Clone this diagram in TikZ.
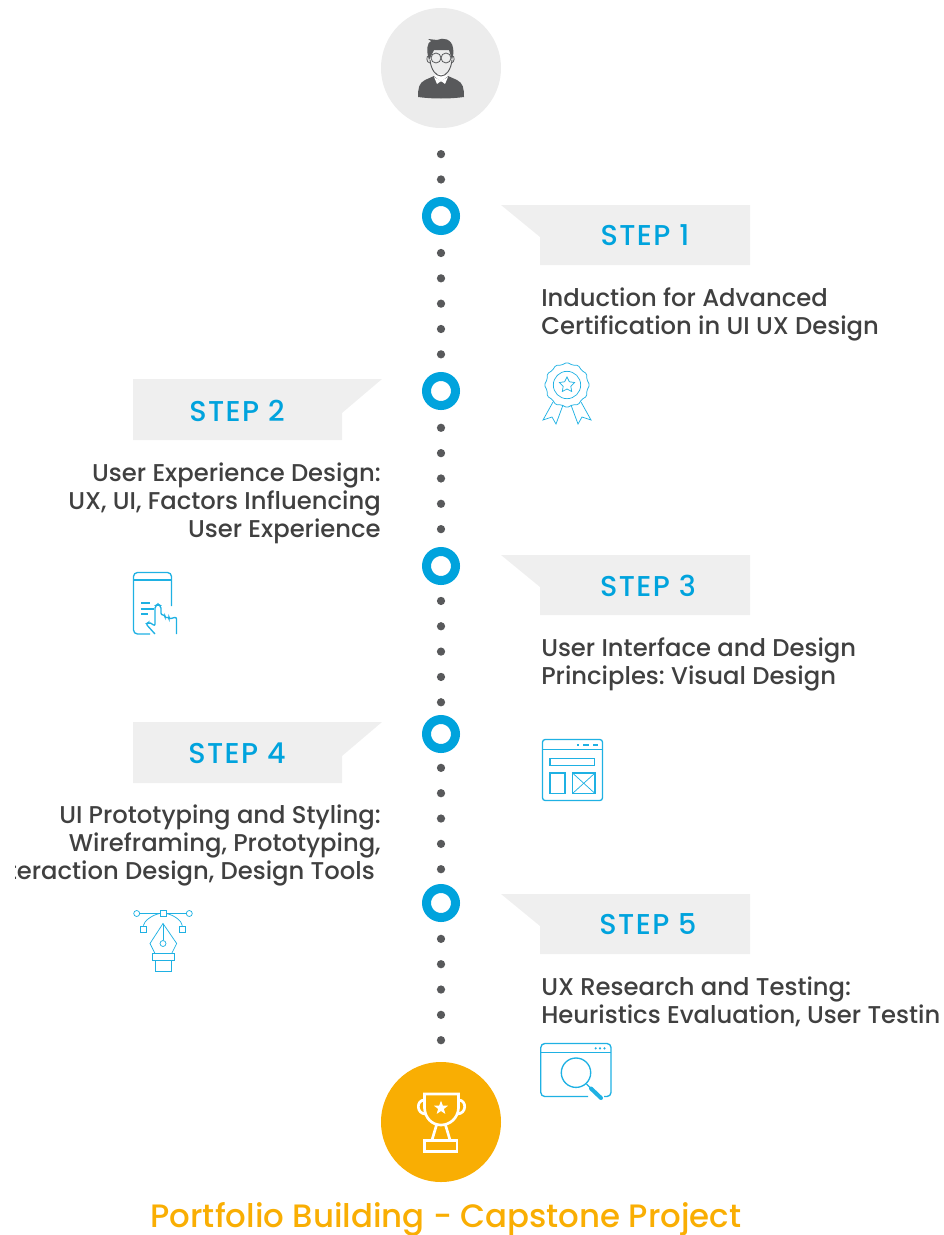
\documentclass[tikz,border=0pt]{standalone}
\usepackage{fontspec}
\setmainfont{Poppins Medium}
\usetikzlibrary{shapes.geometric}
\definecolor{stepblue}{HTML}{00A3DD}
\definecolor{iconblue}{HTML}{1FB1E3}
\definecolor{bannergrey}{HTML}{EFEFEF}
\definecolor{headgrey}{HTML}{ECECEC}
\definecolor{bodygrey}{HTML}{404040}
\definecolor{persongrey}{HTML}{58595B}
\definecolor{goldorange}{HTML}{F9AE03}
\frenchspacing

\begin{document}
\begin{tikzpicture}[x=0.75pt, y=-0.75pt, node distance={19pt},
	spot/.style = {circle, fill=persongrey, inner sep=0pt, minimum size=6.2pt},
	ring/.style = {circle, draw=stepblue, line width=6.75pt, fill=white, inner sep=0pt, minimum size=21.75pt},
	banner/.style = {fill=bannergrey},
	steplabel/.style = {text=stepblue, font=\fontsize{21.5}{24}\selectfont\addfontfeature{LetterSpace=5}},
	bodyleft/.style = {text=bodygrey, font=\fontsize{18.2}{21}\selectfont, align=left, anchor=north west, inner sep=0pt},
	bodyright/.style = {text=bodygrey, font=\fontsize{18.2}{21}\selectfont, align=right, anchor=north east, inner sep=0pt},
	icon/.style = {draw=iconblue, line width=1pt},
	iconthin/.style = {draw=iconblue, line width=0.55pt},
	cup/.style = {draw=white, line width=2pt}]
	\useasboundingbox (0,0) rectangle (944,1235);

	% head and foot
	\node[circle, fill=headgrey, inner sep=0pt, minimum size=90pt] (head) at (441,68) {};
	\node[circle, fill=goldorange, inner sep=0pt, minimum size=90pt] (foot) at (441,1122) {};

	% spine
	\node[ring] (r1) at (441,216) {};
	\node[ring] (r2) at (441,391) {};
	\node[ring] (r3) at (441,566) {};
	\node[ring] (r4) at (441,734) {};
	\node[ring] (r5) at (441,903) {};
	\node[spot] (d01) [above of=r1, node distance=27.4pt] {};
	\node[spot] (d02) [above of=d01] {};
	\node[spot] (d11) [below of=r1, node distance=27.75pt] {};
	\node[spot] (d12) [below of=d11] {};
	\node[spot] (d13) [below of=d12] {};
	\node[spot] (d14) [below of=d13] {};
	\node[spot] (d15) [below of=d14] {};
	\node[spot] (d21) [below of=r2, node distance=27.6pt] {};
	\node[spot] (d22) [below of=d21] {};
	\node[spot] (d23) [below of=d22] {};
	\node[spot] (d24) [below of=d23] {};
	\node[spot] (d25) [below of=d24] {};
	\node[spot] (d31) [below of=r3, node distance=26.2pt] {};
	\node[spot] (d32) [below of=d31] {};
	\node[spot] (d33) [below of=d32] {};
	\node[spot] (d34) [below of=d33] {};
	\node[spot] (d35) [below of=d34] {};
	\node[spot] (d41) [below of=r4, node distance=25.4pt] {};
	\node[spot] (d42) [below of=d41] {};
	\node[spot] (d43) [below of=d42] {};
	\node[spot] (d44) [below of=d43] {};
	\node[spot] (d45) [below of=d44] {};
	\node[spot] (d51) [below of=r5, node distance=26.9pt] {};
	\node[spot] (d52) [below of=d51] {};
	\node[spot] (d53) [below of=d52] {};
	\node[spot] (d54) [below of=d53] {};
	\node[spot] (d55) [below of=d54] {};

	% banners
	\fill[banner] (501,205) -- (750,205) -- (750,265) -- (540,265) -- (540,237) -- cycle;
	\fill[banner] (382,379) -- (133,379) -- (133,440) -- (342,440) -- (342,413) -- cycle;
	\fill[banner] (501,555) -- (750,555) -- (750,615) -- (540,615) -- (540,587) -- cycle;
	\fill[banner] (382,722) -- (133,722) -- (133,783) -- (342,783) -- (342,756) -- cycle;
	\fill[banner] (501,894) -- (750,894) -- (750,954) -- (540,954) -- (540,926) -- cycle;
	\node[steplabel] (s1) at (645,235.5) {STEP 1};
	\node[steplabel] (s2) at (237,410.5) {STEP 2};
	\node[steplabel] (s3) at (648,585.5) {STEP 3};
	\node[steplabel] (s4) at (237,753.5) {STEP 4};
	\node[steplabel] (s5) at (648,924.5) {STEP 5};

	% texts
	\node[bodyleft] (t1) at (541,287.5) {Induction for Advanced\\Certification in UI UX Design};
	\node[bodyright] (t2) at (381,462.5) {User Experience Design:\\UX, UI, Factors Influencing\\User Experience};
	\node[bodyleft] (t3) at (541,637.5) {User Interface and Design\\Principles: Visual Design};
	\node[bodyright] (t4) at (381,804.5) {UI Prototyping and Styling:\\Wireframing, Prototyping,};
	\begin{scope}
		\clip (15,850) rectangle (400,895);
		\node[bodyright] (t4b) at (375,860.5) {Interaction Design, Design Tools};
	\end{scope}
	\begin{scope}
		\clip (500,970) rectangle (938,1035);
		\node[bodyleft] (t5) at (541,976.5) {UX Research and Testing:\\Heuristics Evaluation, User Testing};
	\end{scope}
	\node[text=goldorange, font=\fontsize{24.3}{28}\selectfont, inner sep=0pt] (end) at (446,1219.5) {Portfolio Building - Capstone Project};

	% person
	\fill[persongrey] (418,97) .. controls (418,88) and (419,83) .. (425,80) -- (434,76) -- (441,82) -- (448,76) -- (457,80) .. controls (463,83) and (464,88) .. (464,97) .. controls (450,99) and (432,99) .. (418,97) -- cycle;
	\fill[white] (434,76) -- (441,81) -- (448,76) -- (445,74) -- (437,74) -- cycle;
	\fill[white] (441,81) -- (437,84) -- (434,77) -- cycle;
	\fill[white] (441,81) -- (445,84) -- (448,77) -- cycle;
	\fill[persongrey] (429,60) .. controls (426,50) and (427,43) .. (431,41) -- (428,39) -- (437,40) .. controls (443,37) and (452,39) .. (453,48) .. controls (454,52) and (453,56) .. (452,60) -- (449,50) -- (434,50) -- cycle;
	\draw[persongrey, line width=0.7pt] (430,60) .. controls (431,70) and (436,76) .. (441,76) .. controls (446,76) and (451,70) .. (452,60);
	\draw[persongrey, line width=0.6pt] (429,56) .. controls (426,55) and (426,63) .. (430,63);
	\draw[persongrey, line width=0.6pt] (452,56) .. controls (455,55) and (455,63) .. (451,63);
	\draw[persongrey, line width=0.6pt] (436,58) circle (5);
	\draw[persongrey, line width=0.6pt] (446,58) circle (5);

	% rosette
	\node[iconthin, star, star points=12, star point ratio=1.1, minimum size=34pt, inner sep=0pt, rounded corners=1pt] (rosette) at (567,385) {};
	\node[iconthin, circle, minimum size=20.5pt, inner sep=0pt] (seal) at (567,385) {};
	\node[iconthin, star, star points=5, star point ratio=2, minimum size=12pt, inner sep=0pt] (sealstar) at (567,385) {};
	\draw[iconthin] (553,402) -- (543,420) -- (552,417) -- (556,424) -- (563,405);
	\draw[iconthin] (581,402) -- (591,420) -- (582,417) -- (578,424) -- (571,405);

	% phone
	\draw[icon, rounded corners=3pt] (150,634) -- (133.5,634) -- (133.5,572.5) -- (171.5,572.5) -- (171.5,606);
	\draw[icon] (133.5,580) -- (171.5,580);
	\draw[icon] (141,603) -- (150,603);
	\draw[icon] (141,609) -- (154,609);
	\draw[icon] (141,614) -- (148,614);
	\draw[icon, rounded corners=1.5pt] (155,634) -- (146,624) -- (149,622) -- (155,626) -- (155,606) -- (158,604) -- (161,606) -- (161,615) -- (165,615) -- (165,618) -- (169,617) -- (169,619) -- (176.5,617) -- (176.5,634);

	% window
	\draw[icon, rounded corners=2pt] (542.5,739.5) rectangle (602.5,800.5);
	\draw[icon] (542.5,749.5) -- (602.5,749.5);
	\draw[icon] (577,745) -- (579,745);
	\draw[icon] (583,745) -- (589,745);
	\draw[icon] (593,745) -- (598,745);
	\draw[icon] (550,758.5) rectangle (594.5,765.5);
	\draw[icon] (550,773) rectangle (565,793.5);
	\draw[icon] (572.5,773) rectangle (595,793.5);
	\draw[iconthin] (572.5,773) -- (595,793.5);
	\draw[iconthin] (572.5,793.5) -- (595,773);

	% pen
	\draw[iconthin] (139.5,913.5) -- (160,913.5);
	\draw[iconthin] (166,913.5) -- (186.5,913.5);
	\node[iconthin, circle, minimum size=4.5pt, inner sep=0pt] (p1) at (136.7,913.5) {};
	\node[iconthin, circle, minimum size=4.5pt, inner sep=0pt] (p2) at (189.3,913.5) {};
	\node[iconthin, minimum size=4.5pt, inner sep=0pt] (p3) at (163,913.5) {};
	\node[iconthin, minimum size=4.5pt, inner sep=0pt] (p4) at (143.3,929) {};
	\node[iconthin, minimum size=4.5pt, inner sep=0pt] (p5) at (182.3,929) {};
	\draw[iconthin] (p4.north) .. controls (144,921) and (152,915) .. (p3.west);
	\draw[iconthin] (p5.north) .. controls (182,921) and (174,915) .. (p3.east);
	\draw[iconthin] (163,923.5) -- (150,943.5) -- (155,953.5) -- (171.7,953.5) -- (176.7,943.5) -- cycle;
	\node[iconthin, circle, minimum size=4.5pt, inner sep=0pt] (p6) at (163,943.5) {};
	\draw[iconthin] (163,923.5) -- (p6.north);
	\draw[iconthin] (152.5,953.5) rectangle (174.5,960.7);
	\draw[iconthin] (155.5,960.7) rectangle (171.7,971.7);

	% search window
	\draw[icon, rounded corners=3pt] (588,1096.5) -- (540.8,1096.5) -- (540.8,1043.5) -- (611,1043.5) -- (611,1096.5) -- (604,1096.5);
	\draw[icon] (540.8,1052.5) -- (611,1052.5);
	\fill[iconblue] (595.7,1048.3) circle (1.2);
	\fill[iconblue] (600,1048.3) circle (1.2);
	\fill[iconblue] (604.5,1048.3) circle (1.2);
	\draw[icon] (576,1072.7) circle (14.7);
	\draw[icon] (586.5,1084) -- (590,1087.5);
	\draw[iconblue, line width=3pt, line cap=round] (591,1088.5) -- (601,1098);

	% trophy
	\draw[cup] (424.5,1094) -- (458.5,1094) -- (458.5,1108) .. controls (458,1118) and (450,1125) .. (441,1125) .. controls (432,1125) and (425,1118) .. (424.5,1108) -- cycle;
	\draw[cup] (424.5,1100) .. controls (416,1100) and (416,1114) .. (426,1114);
	\draw[cup] (458.5,1100) .. controls (467,1100) and (467,1114) .. (457,1114);
	\draw[cup] (436.5,1125) -- (432,1140);
	\draw[cup] (445.5,1125) -- (450,1140);
	\draw[cup] (424.5,1140.5) rectangle (457,1151.5);
	\node[star, star points=5, star point ratio=2.4, fill=white, inner sep=0pt, minimum size=11pt] (cupstar) at (441,1108) {};
\end{tikzpicture}
\end{document}
